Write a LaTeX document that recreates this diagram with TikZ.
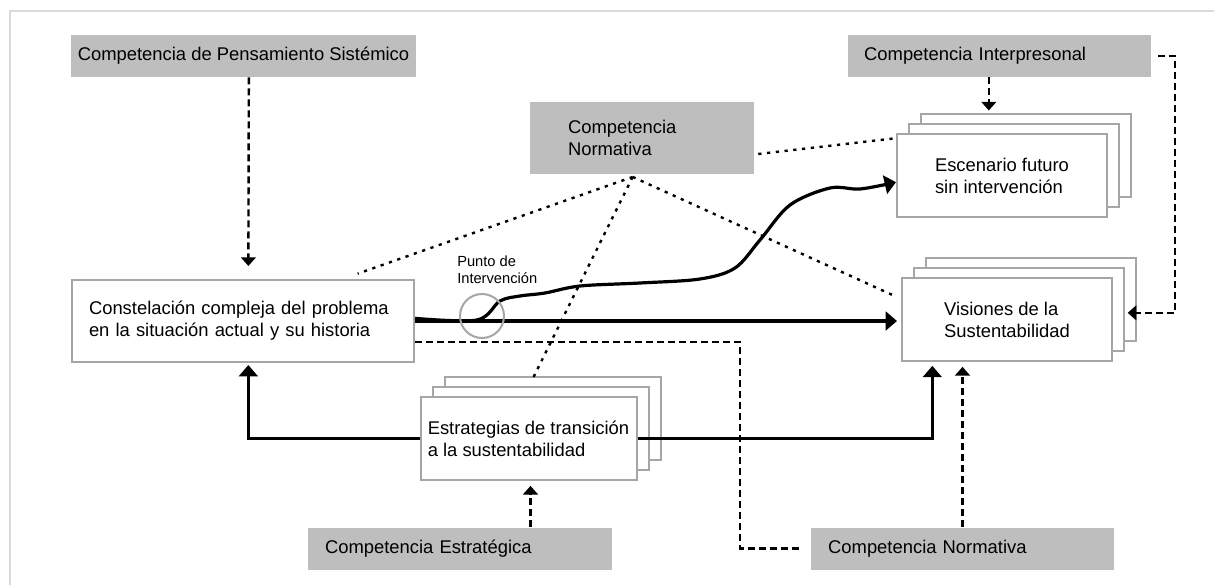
\documentclass[tikz,border=0pt]{standalone}
\usepackage{fontspec}
\setmainfont{Liberation Sans}
\usepackage{tikz}
\usetikzlibrary{arrows.meta,shadows}
\definecolor{boxgray}{RGB}{190,190,190}
\definecolor{stackgray}{RGB}{166,166,166}
\definecolor{framegray}{RGB}{218,218,218}

\begin{document}
\begin{tikzpicture}[x=0.75pt, y=-0.75pt,
		txt/.style={font=\fontsize{13.8}{16.5}\selectfont},
		compbox/.style={txt, fill=boxgray, minimum height=31.5pt, align=left, inner ysep=0pt},
		stackbox/.style={txt, draw=stackgray, line width=1.5pt, fill=white, minimum width=157.5pt, minimum height=62pt, align=left,
			double copy shadow={shadow xshift=9pt, shadow yshift=7.5pt, draw=stackgray, line width=1.5pt, fill=white}},
		solidline/.style={line width=2.4pt, -{Triangle[width=14pt, length=8.5pt]}},
		dashline/.style={line width=1.8pt, dash pattern=on 5.25pt off 3pt},
		dasharrow/.style={dashline, -{Triangle[width=11pt, length=6.5pt]}},
		dotline/.style={line width=1.8pt, dash pattern=on 2.4pt off 4.2pt}]
	\useasboundingbox (0,0) rectangle (1214,585);
	\draw[framegray, line width=1.5pt] (10,585) -- (10,11) -- (1214,11);

	\node[compbox, minimum width=258.75pt] (pensam) at (243.5,56) {Competencia de Pensamiento Sistémico};
	\node[compbox, text width=203pt, inner xsep=12pt] (interp) at (999.5,56) {Competencia Interpresonal};
	\node[compbox, text width=111pt, inner xsep=28.5pt, minimum height=54pt] (normtop) at (642,138) {Competencia\\Normativa};
	\node[compbox, text width=202.5pt, inner xsep=12.75pt] (estratg) at (460,548.5) {Competencia Estratégica};
	\node[compbox, text width=201.5pt, inner xsep=12.75pt] (normbot) at (962.5,548.5) {Competencia Normativa};

	\node[stackbox] (escen) at (1002,175.5) {Escenario futuro\\sin intervención};
	\node[stackbox] (vision) at (1007,319.5) {Visiones de la\\Sustentabilidad};
	\node[stackbox, minimum width=162pt] (estrat) at (528.5,438.5) {Estrategias de transición\\a la sustentabilidad};
	\node[txt, draw=stackgray, line width=1.5pt, text width=231pt, inner xsep=12.75pt, minimum height=61.5pt, align=left] (constel) at (243,321) {Constelación compleja del problema\\en la situación actual y su historia};

	\coordinate (escentop) at ([yshift=15pt]escen.north);
	\coordinate (visionmid) at ([xshift=11pt, yshift=5pt]vision.east);
	\coordinate (apex) at ([xshift=-7pt, yshift=-2pt]normtop.south);

	\draw[dasharrow, shorten >=9.75pt] ([xshift=4pt]pensam.south) -- ([xshift=4pt]constel.north);
	\draw[dasharrow, shorten >=2pt] ([xshift=-8pt]interp.south) -- ([xshift=-8pt]interp.south |- escentop);
	\draw[dasharrow] ([xshift=5pt]interp.east) -- ++(17,0) |- (visionmid);
	\draw[dotline] ([xshift=3pt, yshift=-12pt]normtop.east) -- ([xshift=-2pt, yshift=-4pt]escen.north west);
	\draw[dotline] (apex) -- ([xshift=-43pt, yshift=4pt]constel.north east);
	\draw[dotline] (apex) -- ([xshift=3pt, yshift=12.75pt]estrat.north);
	\draw[dotline] (apex) -- ([xshift=-5pt, yshift=-14pt]vision.north west);
	\draw[solidline, shorten >=3pt] (constel.east) -- (constel.east -| vision.west);
	\draw[dashline, shorten >=7pt] ([yshift=-15.75pt]constel.east) -- ++(325,0) |- (normbot.west);
	\draw[solidline, shorten >=1.5pt] (estrat.west) -| ([xshift=4pt]constel.south);
	\draw[solidline, shorten >=3pt] (estrat.east) -| ([xshift=-56pt]vision.south);
	\draw[dasharrow, shorten >=3.75pt] ([xshift=1.5pt]estrat.south |- estratg.north) -- ([xshift=1.5pt]estrat.south);
	\draw[dasharrow, shorten >=3.75pt] (normbot.north) -- (normbot.north |- vision.south);
	\draw[solidline] plot[smooth, tension=0.55] coordinates {([yshift=2pt]constel.east) (477,320) (500,301) (520,296) (545,293) (580,286) (640,283) (700,279) (735,268) (760,240) (790,205) (830,188) (860,189) ([yshift=-5pt]escen.west)};

	\node[circle, draw=stackgray, line width=1.5pt, minimum size=33pt, inner sep=0pt] (punto) at (482,316) {};
	\node[font=\fontsize{11}{12.75}\selectfont, align=left, anchor=west, inner sep=0pt] (puntotxt) at (457,269.5) {Punto de\\Intervención};
\end{tikzpicture}
\end{document}
